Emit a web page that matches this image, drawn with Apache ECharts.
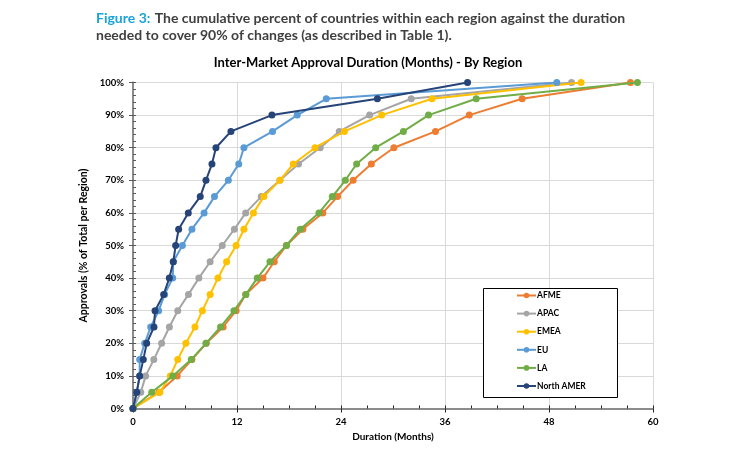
<!DOCTYPE html>
<html>
<head>
<meta charset="utf-8">
<script src="https://cdn.jsdelivr.net/npm/echarts@6/dist/echarts.min.js"></script>
<style>
html,body{margin:0;padding:0;background:#fff;}
#chart{width:750px;height:450px;}
</style>
</head>
<body>
<div id="chart"></div>
<script>
// Cumulative percent levels (y) shared by all regions
var pctLevels = [0,5,10,15,20,25,30,35,40,45,50,55,60,65,70,75,80,85,90,95,100];
// Duration in months (x) at which each cumulative level is reached
var afme      = [0,3.0,5.1,6.8,8.45,10.4,11.9,13.0,15.0,16.3,17.7,19.6,21.9,23.6,25.4,27.5,30.1,34.9,38.8,44.9,57.4];
var apac      = [0,0.9,1.46,2.4,3.3,4.2,5.16,6.4,7.6,8.9,10.3,11.7,13.0,14.8,16.95,19.1,21.6,23.8,27.3,32.1,50.6];
var emea      = [0,3.1,4.3,5.16,6.1,7.15,8.0,8.9,9.8,10.8,11.9,12.8,13.9,15.1,16.95,18.5,21.0,24.4,28.7,34.5,51.7];
var eu        = [0,0.45,0.77,0.77,1.35,2.04,2.96,3.65,4.58,4.65,5.7,6.8,8.2,9.4,11.0,12.2,12.8,16.1,18.95,22.3,48.9];
var la        = [0,2.16,4.6,6.72,8.42,10.1,11.65,13.03,14.34,15.8,17.7,19.3,21.45,23.0,24.5,25.8,28.0,31.2,34.1,39.6,58.2];
var northAmer = [0,0.43,0.77,1.19,1.58,2.42,2.54,3.54,4.19,4.65,4.92,5.27,6.38,7.76,8.42,9.11,9.57,11.3,16.03,28.2,38.6];

var regionNames = ['AFME','APAC','EMEA','EU','LA','North AMER'];
var regionData  = [afme, apac, emea, eu, la, northAmer];
var regionColors = ['#ED7D31','#A5A5A5','#FFC000','#5B9BD5','#70AD47','#264478'];

var xTicks = [0,12,24,36,48,60];

var FONT = 'Lato';

function pairs(xs){
  return xs.map(function(x,i){ return [x, pctLevels[i]]; });
}

var series = regionNames.map(function(name, i){
  return {
    name: name,
    type: 'line',
    data: pairs(regionData[i]),
    symbol: 'circle',
    symbolSize: 7,
    color: regionColors[i],
    lineStyle: {width: 2, color: regionColors[i]},
    itemStyle: {color: regionColors[i]},
    emphasis: {disabled: true},
    animation: false,
    z: 3 + i
  };
});

var chart = echarts.init(document.getElementById('chart'), null, {renderer:'canvas'});
chart.setOption({
  backgroundColor: '#ffffff',
  animation: false,
  textStyle: {fontFamily: FONT},
  title: [{
    left: 96, top: 9, padding: 0,
    text: '{a|Figure 3:} {b|The cumulative percent of countries within each region against the duration}\n{b|needed to cover 90% of changes (as described in Table 1).}',
    textStyle: {
      rich: {
        a: {color:'#1AA3D9', fontFamily: FONT, fontWeight:'bold', fontSize:14, lineHeight:17},
        b: {color:'#404040', fontFamily: FONT, fontWeight:'bold', fontSize:14, lineHeight:17}
      }
    }
  },{
    left: 368, top: 56, padding: 0, textAlign: 'center',
    text: 'Inter-Market Approval Duration (Months) - By Region',
    textStyle: {color:'#000', fontFamily: FONT, fontWeight:'bold', fontSize:13}
  }],
  grid: {left:133, right:97, top:82.5, bottom:41.5, containLabel:false},
  legend: {
    orient: 'vertical',
    left: 516, top: 291, padding: 0,
    itemWidth: 19, itemHeight: 7,
    itemGap: 9.1,
    textStyle: {fontFamily: FONT, fontWeight:'bold', fontSize:8.5, color:'#000', padding:[0,0,0,-4]},
    data: regionNames
  },
  graphic: [{
    type:'rect', left:483, top:288, shape:{width:134, height:109},
    style:{fill:'#fff', stroke:'#000', lineWidth:1}, z: 1
  }],
  xAxis: [{
    type:'value', min: xTicks[0], max: xTicks[xTicks.length-1], interval: 12,
    name: 'Duration (Months)', nameLocation:'middle', nameGap: 23,
    nameTextStyle: {fontFamily: FONT, fontWeight:'bold', fontSize:10, color:'#000'},
    axisLine: {show:true, onZero:false, lineStyle:{color:'#262626', width:1.5}},
    axisTick: {show:true, inside:true, length:3, lineStyle:{color:'#262626'}},
    minorTick: {show:true, splitNumber:4, length:3, lineStyle:{color:'#262626'}},
    axisLabel: {fontFamily: FONT, fontWeight:'bold', fontSize:9.5, color:'#000', margin:8},
    splitLine: {show:true, lineStyle:{color:'#d9d9d9', width:1}}
  },{
    type:'value', position:'top', min:0, max:60,
    axisLine: {show:true, lineStyle:{color:'#8c8c8c', width:2}},
    axisTick:{show:false}, axisLabel:{show:false}, splitLine:{show:false}
  },{
    type:'value', position:'bottom', min:0, max:60, interval:12,
    axisLine: {show:false},
    axisTick:{show:true, length:4, lineStyle:{color:'#262626'}},
    axisLabel:{show:false}, splitLine:{show:false}
  }],
  yAxis: [{
    type:'value', min:0, max:100, interval:10,
    name: 'Approvals (% of Total per Region)', nameLocation:'middle', nameGap: 31, nameRotate: 90,
    nameTextStyle: {fontFamily: FONT, fontWeight:'bold', fontSize:10.5, color:'#000'},
    axisLine: {show:true, lineStyle:{color:'#595959', width:1.5}},
    axisTick: {show:true, inside:true, length:3, lineStyle:{color:'#595959'}},
    minorTick: {show:true, splitNumber:5, length:3, lineStyle:{color:'#595959'}},
    axisLabel: {formatter:'{value}%', fontFamily: FONT, fontWeight:'bold', fontSize:9.5, color:'#000', margin:9},
    splitLine: {show:true, lineStyle:{color:'#d9d9d9', width:1}}
  },{
    type:'value', position:'right', min:0, max:100,
    axisLine: {show:true, lineStyle:{color:'#8c8c8c', width:2}},
    axisTick:{show:false}, axisLabel:{show:false}, splitLine:{show:false}
  },{
    type:'value', position:'left', min:0, max:100, interval:10,
    axisLine: {show:false},
    axisTick:{show:true, length:4, lineStyle:{color:'#595959'}},
    axisLabel:{show:false}, splitLine:{show:false}
  }],
  series: series
});
</script>
</body>
</html>
